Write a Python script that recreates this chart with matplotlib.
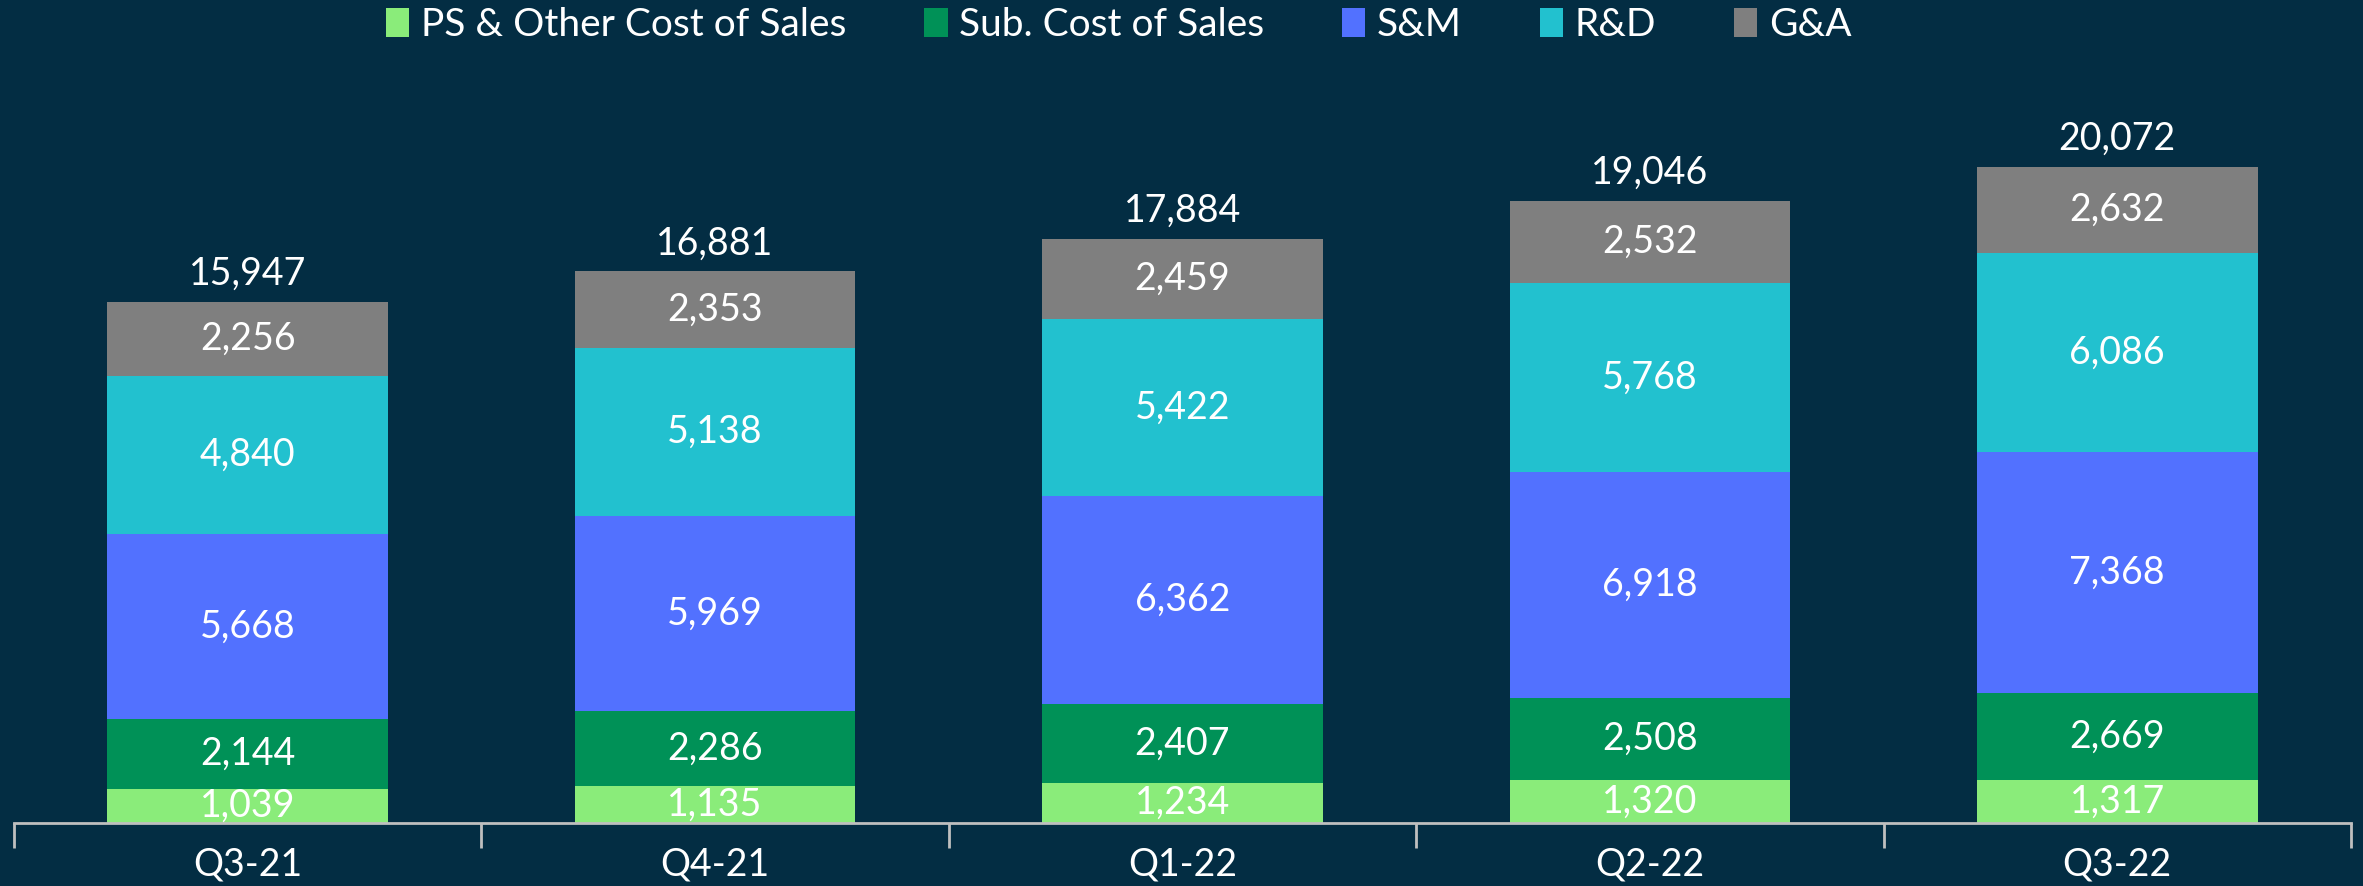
import matplotlib
matplotlib.use("Agg")
import matplotlib.pyplot as plt
import numpy as np

quarters = ["Q3-21", "Q4-21", "Q1-22", "Q2-22", "Q3-22"]
ps_other = [1039, 1135, 1234, 1320, 1317]
sub_cost = [2144, 2286, 2407, 2508, 2669]
sm = [5668, 5969, 6362, 6918, 7368]
rd = [4840, 5138, 5422, 5768, 6086]
ga = [2256, 2353, 2459, 2532, 2632]
totals = [15947, 16881, 17884, 19046, 20072]

series_names = ["PS & Other Cost of Sales", "Sub. Cost of Sales", "S&M", "R&D", "G&A"]
series = [ps_other, sub_cost, sm, rd, ga]
colors = ["#8AEC7A", "#009157", "#5271FF", "#22C1CF", "#7F7F7F"]
bg = "#032D43"

plt.rcParams['font.family'] = ['Lato', 'DejaVu Sans']

fig = plt.figure(figsize=(23.63, 8.86), dpi=100, facecolor=bg)
ax = fig.add_axes([14/2363, 1 - 823/886, (2351-14)/2363, (823-104)/886])
ax.set_facecolor(bg)

x = np.arange(len(quarters))
bottom = np.zeros(len(quarters))
handles = []
for name, vals, c in zip(series_names, series, colors):
    vals = np.array(vals, dtype=float)
    b = ax.bar(x, vals, 0.6, bottom=bottom, color=c, label=name, zorder=2)
    handles.append(b)
    for xi, v, bt in zip(x, vals, bottom):
        ax.text(xi, bt + v / 2, f"{int(v):,}", ha="center", va="center",
                color="white", fontsize=27, zorder=3)
    bottom += vals

for xi, t, top in zip(x, totals, bottom):
    ax.text(xi, top + 300, f"{t:,}", ha="center", va="bottom", color="white", fontsize=27)

ax.set_xlim(-0.5, len(quarters) - 0.5)
ax.set_ylim(0, 22000)
for s in ["top", "right", "left"]:
    ax.spines[s].set_visible(False)
ax.spines["bottom"].set_color("#BFBFBF")
ax.spines["bottom"].set_linewidth(2)
ax.set_yticks([])
ax.set_xticks(np.arange(-0.5, len(quarters)), minor=False)
ax.set_xticklabels([])
ax.tick_params(axis="x", which="major", length=18, width=2, color="#BFBFBF", direction="out")
ax.set_xticks(x, minor=True)
ax.set_xticklabels(quarters, minor=True)
ax.tick_params(axis="x", which="minor", length=0, pad=17, labelsize=27, labelcolor="white")

leg = fig.legend(handles=handles, labels=series_names, loc="center", bbox_to_anchor=(0.4735, 1 - 25/886),
                 ncol=5, frameon=False, fontsize=28, labelcolor="white",
                 handlelength=0.6, handleheight=0.8, handletextpad=0.3, columnspacing=2.0)

fig.savefig("out.png", dpi=100, facecolor=bg)
